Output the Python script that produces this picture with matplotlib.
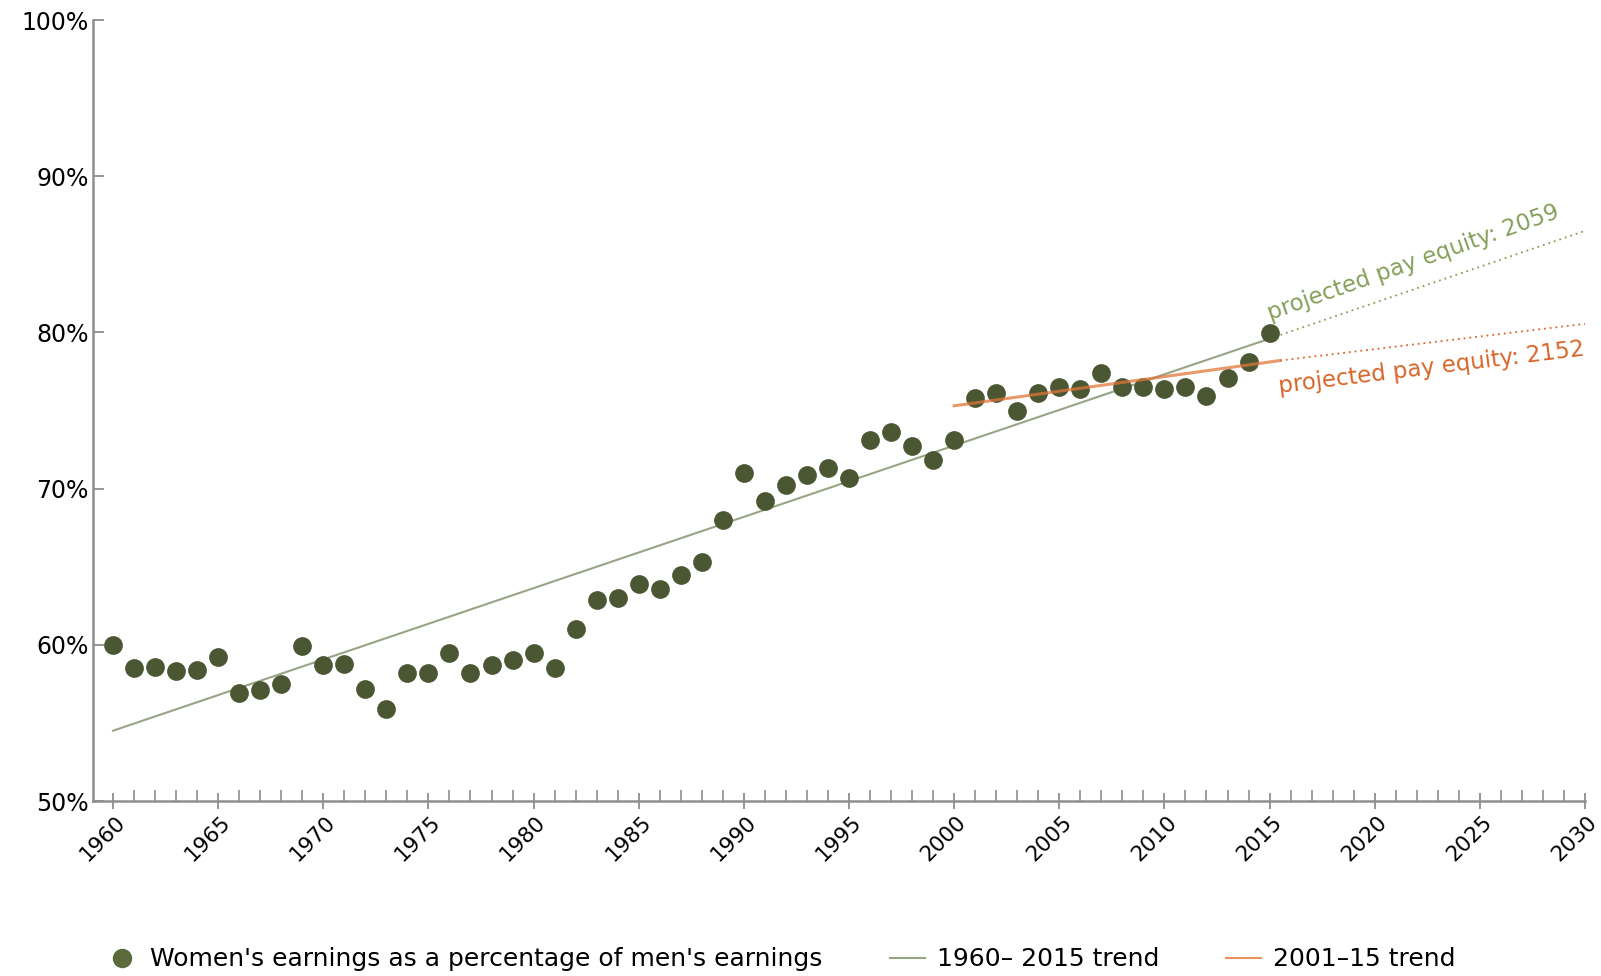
import matplotlib
matplotlib.use('Agg')
import matplotlib.pyplot as plt
import matplotlib.transforms as mtransforms
from matplotlib.lines import Line2D
from matplotlib.ticker import MultipleLocator, FuncFormatter

years = list(range(1960, 2016))
ratio = [60.0, 58.5, 58.6, 58.3, 58.4, 59.25, 56.9, 57.1, 57.5, 59.9,
         58.7, 58.8, 57.2, 55.9, 58.2, 58.2, 59.5, 58.2, 58.7, 59.0,
         59.5, 58.5, 61.0, 62.9, 63.0, 63.9, 63.6, 64.5, 65.3, 68.0,
         71.0, 69.2, 70.2, 70.9, 71.3, 70.7, 73.1, 73.6, 72.7, 71.8,
         73.1, 75.8, 76.1, 75.0, 76.1, 76.5, 76.4, 77.4, 76.5, 76.5,
         76.4, 76.5, 75.95, 77.1, 78.1, 79.95]

# trend lines
long_trend_x = [1960, 2015]
long_trend_y = [54.5, 79.6]
long_proj_x = [2015, 2030]
long_proj_y = [79.6, 86.5]
short_trend_x = [2000, 2015.5]
short_trend_y = [75.3, 78.2]
short_proj_x = [2015.5, 2030]
short_proj_y = [78.2, 80.55]

dot_color = '#4b5732'
green_line = '#97a584'
green_text = '#86a05a'
orange_line = '#e0773a'
orange_text = '#d8662a'
axis_grey = '#8e8e8e'

fig = plt.figure(figsize=(16.01, 9.76), dpi=100)
ax = fig.add_axes([0.0581, 0.1793, 0.9319, 0.8002])

ax.plot(long_trend_x, long_trend_y, color=green_line, lw=1.5, zorder=2)
ax.plot(long_proj_x, long_proj_y, color=green_text, lw=1.3, ls=(0, (1, 2.2)), zorder=2)
ax.plot(years, ratio, 'o', color=dot_color, ms=13.5, mec='none', zorder=3)
ax.plot(short_trend_x, short_trend_y, color=orange_line, lw=2.2, alpha=0.75, zorder=4)
ax.plot(short_proj_x, short_proj_y, color=orange_text, lw=1.3, ls=(0, (1, 2.2)), zorder=2)

ax.text(2015.1, 80.5, 'projected pay equity: 2059', color=green_text, fontsize=16.5,
        rotation=19.5, rotation_mode='anchor', ha='left', va='bottom')
ax.text(2015.5, 75.8, 'projected pay equity: 2152', color=orange_text, fontsize=16.5,
        rotation=7, rotation_mode='anchor', ha='left', va='bottom')

ax.set_xlim(1959.05, 2030)
ax.set_ylim(50, 100)

for side in ['top', 'right']:
    ax.spines[side].set_visible(False)
for side in ['left', 'bottom']:
    ax.spines[side].set_color(axis_grey)
    ax.spines[side].set_linewidth(1.8)

ax.xaxis.set_major_locator(MultipleLocator(5))
ax.xaxis.set_minor_locator(MultipleLocator(1))
ax.yaxis.set_major_locator(MultipleLocator(10))
ax.yaxis.set_major_formatter(FuncFormatter(lambda v, p: f'{v:.0f}%'))

ax.tick_params(axis='x', which='major', direction='inout', length=12, width=1.3,
               color=axis_grey, labelsize=15.5, pad=2)
ax.tick_params(axis='x', which='minor', direction='in', length=8, width=1.2, color=axis_grey)
ax.tick_params(axis='y', which='major', direction='in', length=8, width=1.3,
               color=axis_grey, labelsize=17, pad=3)

shift = mtransforms.ScaledTranslation(2 / 100, 0, fig.dpi_scale_trans)
for lab in ax.get_xticklabels():
    lab.set_rotation(45)
    lab.set_ha('right')
    lab.set_va('top')
    lab.set_rotation_mode('anchor')
    lab.set_transform(lab.get_transform() + shift)

handles = [
    Line2D([], [], marker='o', ls='none', color='#5b6a3a', ms=14, mec='none'),
    Line2D([], [], color=green_line, lw=1.5),
    Line2D([], [], color=orange_line, lw=1.5, alpha=0.8),
]
labels = ["Women's earnings as a percentage of men's earnings",
          '1960– 2015 trend', '2001–15 trend']
fig.legend(handles, labels, loc='center left', bbox_to_anchor=(0.051, 0.017),
           ncol=3, frameon=False, fontsize=18, handlelength=1.4, handletextpad=0.45,
           columnspacing=2.7)

fig.savefig('out.png', dpi=100)
